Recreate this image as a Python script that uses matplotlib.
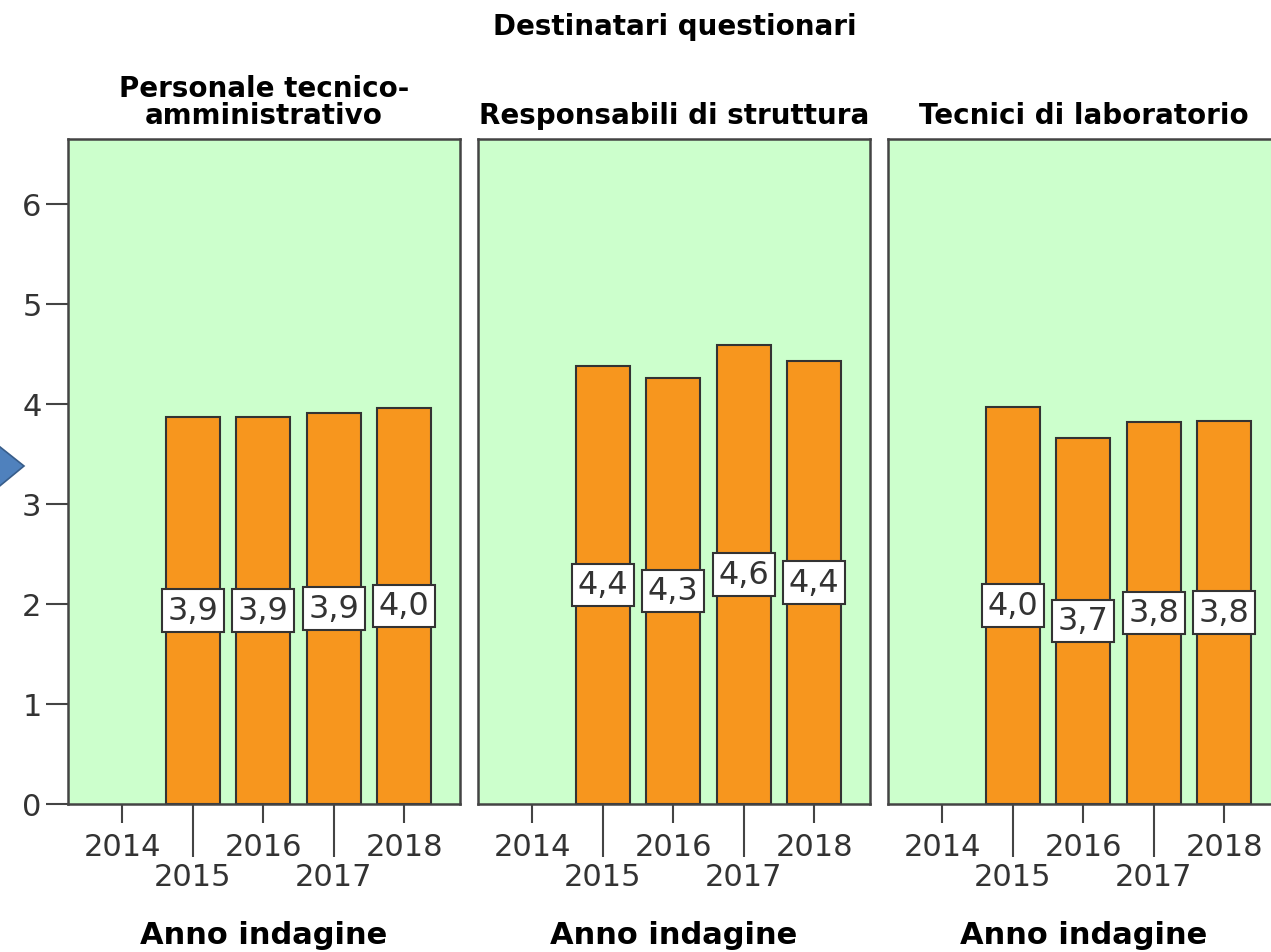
import matplotlib

matplotlib.use("Agg")
import matplotlib.pyplot as plt
from matplotlib.patches import Polygon

# data
years = ["2014", "2015", "2016", "2017", "2018"]
panel_titles = [
    "Personale tecnico-\namministrativo",
    "Responsabili di struttura",
    "Tecnici di laboratorio",
]
# 2014 has no bar in any panel
tecnico_amm = [None, 3.87, 3.87, 3.91, 3.96]
responsabili = [None, 4.38, 4.26, 4.59, 4.43]
tecnici_lab = [None, 3.97, 3.66, 3.82, 3.83]
series = [tecnico_amm, responsabili, tecnici_lab]

yticks = [0, 1, 2, 3, 4, 5, 6]

BG = "#ccffcc"
BAR = "#f7961e"
EDGE = "#333333"
TXT = "#333333"

W, H = 1271, 953
fig = plt.figure(figsize=(W / 100, H / 100), dpi=100)

# panel left edges in pixels, all panels same size
panel_left = [68, 478, 888]
panel_w = 392
ax_top, ax_bottom = 140, 805

for i, (title, vals) in enumerate(zip(panel_titles, series)):
    ax = fig.add_axes([
        panel_left[i] / W,
        1 - ax_bottom / H,
        panel_w / W,
        (ax_bottom - ax_top) / H,
    ])
    ax.set_facecolor(BG)
    xs = [k for k, v in enumerate(vals) if v is not None]
    hs = [v for v in vals if v is not None]
    ax.bar(xs, hs, width=0.77, color=BAR, edgecolor=EDGE, linewidth=1.5, zorder=2)
    for x, h in zip(xs, hs):
        ax.text(
            x, h / 2, f"{h:.1f}".replace(".", ","),
            ha="center", va="center", fontsize=23, color=TXT, zorder=3,
            bbox=dict(boxstyle="square,pad=0.18", fc="white", ec=EDGE, lw=1.5),
        )

    ax.set_xlim(-0.77, 4.79)
    ax.set_ylim(0, 6.65)
    for s in ax.spines.values():
        s.set_color("#444444")
        s.set_linewidth(1.8)

    # staggered year labels: even years up, odd years down on longer ticks
    ax.set_xticks([0, 2, 4])
    ax.set_xticklabels([years[0], years[2], years[4]])
    ax.set_xticks([1, 3], minor=True)
    ax.set_xticklabels([years[1], years[3]], minor=True)
    ax.tick_params(axis="x", which="major", length=14, width=1.5,
                   color="#444444", labelsize=22, labelcolor=TXT, pad=6)
    ax.tick_params(axis="x", which="minor", length=38, width=1.5,
                   color="#444444", labelsize=22, labelcolor=TXT, pad=4)

    if i == 0:
        ax.set_yticks(yticks)
        ax.tick_params(axis="y", length=16, width=1.5, color="#444444",
                       labelsize=22, labelcolor=TXT, pad=3)
    else:
        ax.set_yticks([])

    ax.annotate(title, xy=(0.5, 1.0), xycoords="axes fraction",
                xytext=(0, 7), textcoords="offset points",
                ha="center", va="bottom", fontsize=20, fontweight="bold",
                color="black", linespacing=0.95)
    ax.annotate("Anno indagine", xy=(0.5, 0.0), xycoords="axes fraction",
                xytext=(0, -94), textcoords="offset points",
                ha="center", va="center", fontsize=22, fontweight="bold",
                color="black")

fig.text(675 / W, 1 - 27 / H, "Destinatari questionari", ha="center",
         va="center", fontsize=20, fontweight="bold", color="black")

# blue arrow shape peeking in at the left edge
arrow_px = [(-10, 440), (24, 467), (-10, 495)]
fig.patches.append(Polygon(
    [(x / W, 1 - y / H) for x, y in arrow_px], closed=True,
    transform=fig.transFigure, fc="#4f81bd", ec="#385d8a", lw=1.2,
))

fig.savefig("out.png", dpi=100)
